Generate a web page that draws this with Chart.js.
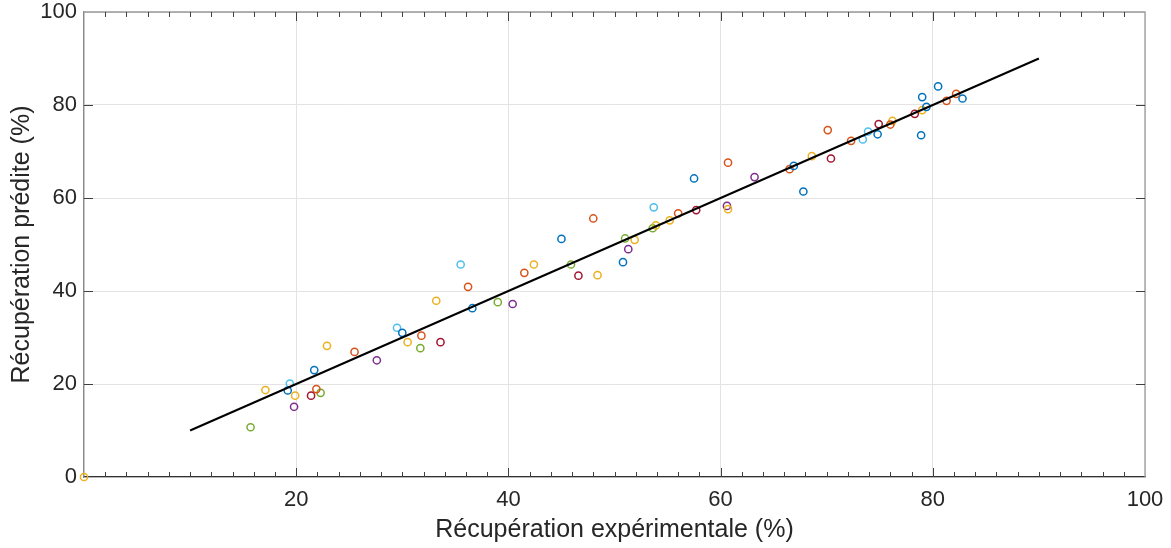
<!DOCTYPE html>
<html lang="fr">
<head>
<meta charset="utf-8">
<title>Récupération prédite vs expérimentale</title>
<script src="https://cdn.jsdelivr.net/npm/chart.js@4.4.1/dist/chart.umd.min.js"></script>
<style>
  html, body { margin: 0; padding: 0; background: #ffffff; }
  #wrap { width: 1171px; height: 548px; position: relative; }
</style>
</head>
<body>
<div id="wrap"><canvas id="c"></canvas></div>
<script>
// Récupération expérimentale (x) et prédite (y), en %, par série
const serie1X = [19.2, 21.7, 30.0, 36.6, 45.0, 50.8, 57.5, 66.9, 67.8, 74.8, 79.4, 79.0, 78.9, 80.5, 82.8];
const serie1Y = [18.6, 23.0, 31.0, 36.3, 51.2, 46.2, 64.2, 66.9, 61.4, 73.7, 79.6, 81.7, 73.5, 84.0, 81.4];

const serie2X = [21.9, 25.5, 31.8, 36.2, 41.5, 48.0, 56.0, 60.7, 66.5, 70.1, 72.3, 76.0, 81.3, 82.2];
const serie2Y = [18.9, 26.9, 30.4, 40.9, 43.9, 55.6, 56.7, 67.6, 66.2, 74.6, 72.3, 75.8, 80.9, 82.4];

const serie3X = [0.0, 17.1, 19.9, 22.9, 30.5, 33.2, 42.4, 48.4, 51.9, 53.9, 55.2, 60.7, 68.6, 76.2, 79.0];
const serie3Y = [0.0, 18.7, 17.5, 28.2, 29.0, 37.9, 45.7, 43.4, 51.0, 54.1, 55.2, 57.6, 69.0, 76.6, 78.9];

const serie4X = [19.8, 27.6, 40.4, 51.3, 60.6, 63.2];
const serie4Y = [15.1, 25.1, 37.2, 49.0, 58.3, 64.5];

const serie5X = [15.7, 22.3, 31.7, 39.0, 45.9, 51.0, 53.6];
const serie5Y = [10.7, 18.1, 27.7, 37.6, 45.7, 51.3, 53.5];

const serie6X = [19.4, 29.5, 35.5, 53.7, 73.4, 73.9];
const serie6Y = [20.1, 32.1, 45.7, 58.0, 72.6, 74.3];

const serie7X = [21.4, 33.6, 46.6, 57.7, 70.4, 74.9, 78.3];
const serie7Y = [17.5, 29.0, 43.3, 57.4, 68.5, 75.9, 78.1];

// Droite de référence y = x
const droiteX = [10, 90];
const droiteY = [10, 90];

// Graduations
const xTicks = [0, 20, 40, 60, 80, 100];
const yTicks = [0, 20, 40, 60, 80, 100];
const xMinorStep = 2;

const couleurs = ['#0072BD', '#D95319', '#EDB120', '#7E2F8E', '#77AC30', '#4DBEEE', '#A2142F'];
const series = [
  [serie1X, serie1Y], [serie2X, serie2Y], [serie3X, serie3Y], [serie4X, serie4Y],
  [serie5X, serie5Y], [serie6X, serie6Y], [serie7X, serie7Y]
];

const toPoints = (xs, ys) => xs.map((x, i) => ({ x: x, y: ys[i] }));

const datasets = series.map((s, i) => ({
  type: 'scatter',
  data: toPoints(s[0], s[1]),
  borderColor: couleurs[i],
  backgroundColor: 'rgba(0,0,0,0)',
  pointRadius: 3.6,
  pointBorderWidth: 1.5,
  pointHoverRadius: 3.6,
  clip: false,
  order: 2
}));

datasets.push({
  type: 'line',
  data: toPoints(droiteX, droiteY),
  borderColor: '#000000',
  borderWidth: 2,
  pointRadius: 0,
  fill: false,
  order: 1
});

const TXT = '#262626';
const FONT = "'Liberation Sans', Arial, Helvetica, sans-serif";

// Graduations intérieures et cadre complet
const boxTicks = {
  id: 'boxTicks',
  afterDraw(chart) {
    const ctx = chart.ctx;
    const a = chart.chartArea;
    const xs = chart.scales.x, ys = chart.scales.y;
    ctx.save();
    // cadre haut / droite
    ctx.strokeStyle = '#9a9a9a';
    ctx.lineWidth = 1.3;
    ctx.beginPath();
    ctx.moveTo(a.left, a.top); ctx.lineTo(a.right, a.top); ctx.lineTo(a.right, a.bottom);
    ctx.stroke();

    ctx.strokeStyle = '#404040';
    ctx.lineWidth = 1;
    ctx.beginPath();
    // petites graduations en x (haut et bas)
    for (let v = xMinorStep; v < 100; v += xMinorStep) {
      if (xTicks.includes(v)) continue;
      const px = Math.round(xs.getPixelForValue(v)) + 0.5;
      ctx.moveTo(px, a.bottom); ctx.lineTo(px, a.bottom - 5);
      ctx.moveTo(px, a.top); ctx.lineTo(px, a.top + 5);
    }
    // grandes graduations en x
    xTicks.forEach(v => {
      if (v === 0 || v === 100) return;
      const px = Math.round(xs.getPixelForValue(v)) + 0.5;
      ctx.moveTo(px, a.bottom); ctx.lineTo(px, a.bottom - 9);
      ctx.moveTo(px, a.top); ctx.lineTo(px, a.top + 9);
    });
    // grandes graduations en y
    yTicks.forEach(v => {
      if (v === 0 || v === 100) return;
      const py = Math.round(ys.getPixelForValue(v)) + 0.5;
      ctx.moveTo(a.left, py); ctx.lineTo(a.left + 9, py);
      ctx.moveTo(a.right, py); ctx.lineTo(a.right - 9, py);
    });
    ctx.stroke();
    ctx.restore();
  }
};

new Chart(document.getElementById('c'), {
  type: 'scatter',
  data: { datasets: datasets },
  plugins: [boxTicks],
  options: {
    responsive: true,
    maintainAspectRatio: false,
    animation: false,
    events: [],
    layout: { padding: { left: 0, top: 12, right: 26, bottom: 0 } },
    plugins: { legend: { display: false }, tooltip: { enabled: false } },
    scales: {
      x: {
        type: 'linear',
        min: 0, max: 100,
        afterBuildTicks: s => { s.ticks = xTicks.map(v => ({ value: v })); },
        afterFit: s => { s.height = 71; s.paddingLeft = 0; s.paddingRight = 0; },
        grid: { color: '#e3e3e3', lineWidth: 1, drawTicks: false },
        border: { color: '#333333', width: 1.3 },
        ticks: {
          color: TXT,
          font: { family: FONT, size: 22 },
          padding: 10,
          maxRotation: 0,
          callback: v => (v === 0 ? '' : String(v))
        },
        title: {
          display: true,
          text: 'Récupération expérimentale (%)',
          color: TXT,
          font: { family: FONT, size: 25 },
          padding: { top: 0, bottom: 3 }
        }
      },
      y: {
        type: 'linear',
        min: 0, max: 100,
        afterBuildTicks: s => { s.ticks = yTicks.map(v => ({ value: v })); },
        afterFit: s => { s.width = 84; s.paddingTop = 0; s.paddingBottom = 0; },
        grid: { color: '#e3e3e3', lineWidth: 1, drawTicks: false },
        border: { color: '#8a8a8a', width: 1.3 },
        ticks: {
          color: TXT,
          font: { family: FONT, size: 22 },
          padding: 7
        },
        title: {
          display: true,
          text: 'Récupération prédite (%)',
          color: TXT,
          font: { family: FONT, size: 25 },
          padding: { top: 7, bottom: 0 }
        }
      }
    }
  }
});
</script>
</body>
</html>
